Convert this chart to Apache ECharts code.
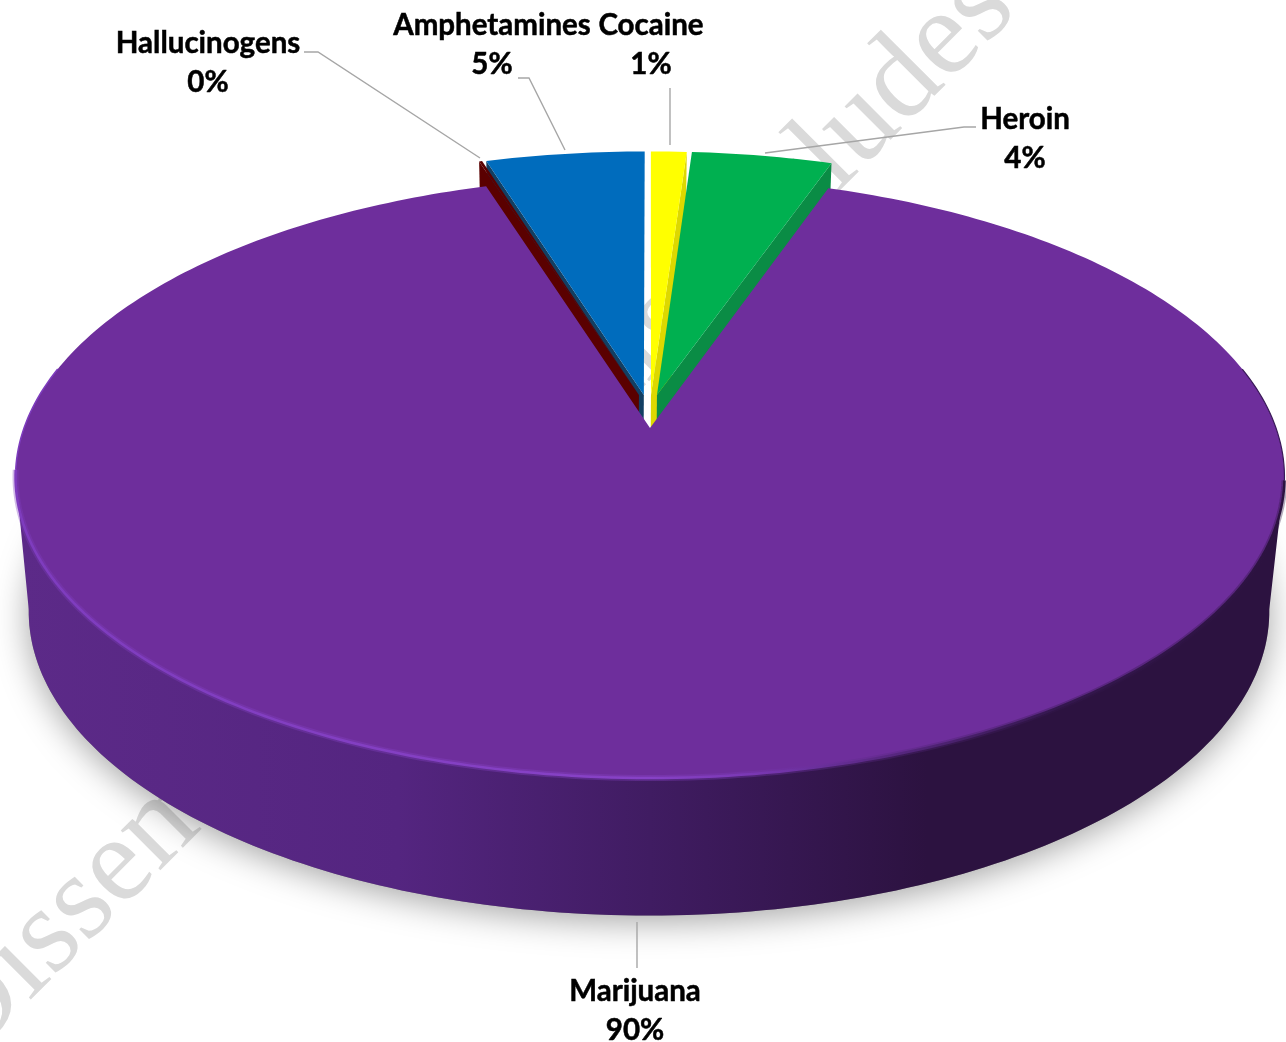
<!DOCTYPE html>
<html><head><meta charset="utf-8">
<style>html,body{margin:0;padding:0;background:#fff}#c{width:1286px;height:1042px}</style>
<script src="https://cdn.jsdelivr.net/npm/echarts@6/dist/echarts.min.js"></script>
</head><body><div id="c"></div>
<script>
// clockwise from 12 o'clock
const categories = ['Cocaine', 'Heroin', 'Marijuana', 'Hallucinogens', 'Amphetamines'];
const values = [1.08, 4.25, 89.78, 0.09, 4.8];

// styling and layout, kept apart from the data
const topColors  = ['#FFFF00', '#00B050', '#6E2E9C', '#5A0000', '#006CBD'];
const wallColors = ['#DDD800', '#0A8C45', '#6E2E9C', '#5A0000', '#123F63'];
const wallEdge   = ['end', 'end', null, 'start', 'start'];
const drawOrder  = [1, 2, 5, 4, 3];
const explode = [[0.0016, -0.115], [0.0113, -0.115], [0, 0], [-0.018, -0.115], [-0.01, -0.115]];
const labelAt = [[651, 45], [1025, 139], [635, 1011], [208, 62.5], [492, 45]];
const leaders = [
  [[670, 88], [670, 145]],
  [[976, 127], [964, 127], [765, 153]],
  [[637, 922], [637, 968]],
  [[304, 52], [318, 52], [480, 158]],
  [[518, 78], [529, 78], [565, 150]]
];
const P = {cx: 650, cy: 428, rx: 626, k: 293, p: 0.1628};
const B = {cx: 649, cy: 562, rx: 612, k: 296, p: 0.1628};

function proj(P, deg, d) {
  const t = deg * Math.PI / 180, V = -Math.cos(t) + d[1], U = Math.sin(t) + d[0], w = 1 - P.p * V;
  return [P.cx + P.rx * U / w, P.cy + P.k * V / w];
}
function arc(P, a, b, d) {
  const n = Math.max(2, Math.ceil(Math.abs(b - a))), out = [];
  for (let i = 0; i <= n; i++) out.push(proj(P, a + (b - a) * i / n, d));
  return out;
}
const total = values.reduce((s, v) => s + v, 0);
const grad = (x, x2, stops) => ({type: 'linear', x, y: 0, x2, y2: 0, global: true,
  colorStops: stops.map(s => ({offset: s[0], color: s[1]}))});

function renderSlice(params) {
  const i = params.dataIndex;
  let a0 = 0;
  for (let j = 0; j < i; j++) a0 += values[j] / total * 360;
  const a1 = a0 + values[i] / total * 360, d = explode[i], z = drawOrder[i] * 10;
  const kids = [];
  if (categories[i] === 'Marijuana') {
    const front = arc(B, 75, 285, d);
    kids.push({type: 'polygon', z2: z - 5, shape: {points: front},
      style: {fill: '#888', shadowBlur: 34, shadowColor: 'rgba(0,0,0,0.36)', shadowOffsetY: 6}});
    const wall = arc(P, 99, 261, d).concat(arc(B, 261, 99, d));
    kids.push({type: 'polygon', z2: z - 4, shape: {points: wall},
      style: {fill: grad(20, 1280, [[0, '#5C2A88'], [0.3, '#542580'], [0.5, '#401C62'], [0.72, '#2C1240'], [1, '#2C1240']])}});
  } else {
    const e = wallEdge[i] === 'end' ? a1 : a0;
    const toApex = [d[0] - Math.sin(e * Math.PI / 180), d[1] + Math.cos(e * Math.PI / 180)];
    const wall = [proj(P, e, toApex), proj(P, e, d), proj(B, e, d), proj(B, e, toApex)];
    kids.push({type: 'polygon', z2: z, shape: {points: wall}, style: {fill: wallColors[i]}});
  }
  const apex = proj(P, a0, [d[0] - Math.sin(a0 * Math.PI / 180), d[1] + Math.cos(a0 * Math.PI / 180)]);
  kids.push({type: 'polygon', z2: z + 1, shape: {points: [apex].concat(arc(P, a0, a1, d))}, style: {fill: topColors[i]}});
  if (categories[i] === 'Marijuana') {
    const rim = arc(P, 262, 100, d);
    const rimStops = [[0, '#7E3CBE'], [0.5, '#8742C6'], [0.58, '#7A38B4'], [0.68, '#5A2884'], [0.82, '#34174E'], [1, '#2C1240']];
    kids.push({type: 'polyline', z2: z + 2, shape: {points: rim},
      style: {fill: null, lineWidth: 6, opacity: 0.35, stroke: grad(12, 1286, rimStops)}});
    kids.push({type: 'polyline', z2: z + 3, shape: {points: rim},
      style: {fill: null, lineWidth: 2.5, stroke: grad(12, 1286, rimStops)}});
    kids.push({type: 'polyline', z2: z + 3, shape: {points: arc(P, 282, 262, d)},
      style: {fill: null, lineWidth: 1.5, stroke: '#7E3CBE'}});
    kids.push({type: 'polyline', z2: z + 3, shape: {points: arc(P, 78, 100, d)},
      style: {fill: null, lineWidth: 1.2, stroke: '#3A1A58'}});
  }
  kids.push({type: 'polyline', z2: 100, shape: {points: leaders[i]},
    style: {fill: null, stroke: '#A6A6A6', lineWidth: 1.4}});
  kids.push({type: 'text', z2: 101, x: labelAt[i][0], y: labelAt[i][1],
    style: {text: categories[i] + '\n' + Math.round(values[i] / total * 100) + '%',
      font: 'bold 29.5px Lato', fill: '#000', stroke: '#000', lineWidth: 0.5,
      align: 'center', verticalAlign: 'middle', lineHeight: 39}});
  return {type: 'group', children: kids};
}

const chart = echarts.init(document.getElementById('c'), null, {renderer: 'canvas'});
chart.setOption({
  animation: false,
  backgroundColor: '#fff',
  graphic: [{type: 'text', z: 0, x: 470, y: 515, rotation: Math.PI / 4,
    style: {text: 'Dissemination of this Includes', font: '122px "Liberation Serif"', fill: '#DADADA', align: 'center', verticalAlign: 'middle'}}],
  series: [{type: 'custom', coordinateSystem: 'none', z: 2, silent: true, renderItem: renderSlice,
    data: values.map((v, i) => ({name: categories[i], value: v}))}]
});
</script></body></html>
